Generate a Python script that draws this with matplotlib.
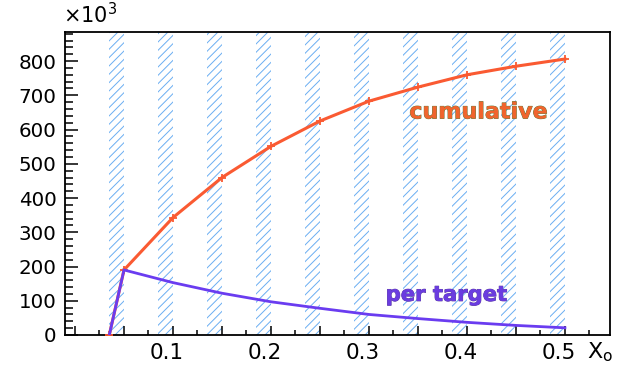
import matplotlib
matplotlib.use('Agg')
import matplotlib.pyplot as plt
import matplotlib.patheffects as pe
from matplotlib.ticker import MultipleLocator, FuncFormatter
from matplotlib.transforms import ScaledTranslation

# X0 values (bin right edges) and event counts in units of 10^3
x0 = [0.035, 0.05, 0.10, 0.15, 0.20, 0.25, 0.30, 0.35, 0.40, 0.45, 0.50]
cumulative = [0, 190, 343, 460, 551, 625, 683, 724, 760, 785, 806]
per_target = [0, 190, 153, 122, 97, 78, 60, 48, 37, 28, 21]
band_right = [0.05, 0.10, 0.15, 0.20, 0.25, 0.30, 0.35, 0.40, 0.45, 0.50]
band_width = 0.015

plt.rcParams['font.family'] = ['DejaVu Sans']
plt.rcParams['hatch.linewidth'] = 0.7

fig = plt.figure(figsize=(6.22, 3.68), dpi=100)
ax = fig.add_axes([65 / 622, 33 / 368, 545 / 622, 303 / 368])

# hatched target bands
for xr in band_right:
    ax.axvspan(xr - band_width, xr, facecolor='none', edgecolor='#6aaef2',
               hatch='////', linewidth=0, zorder=0)

ax.plot(x0, cumulative, color='#fa5a32', lw=2.2, marker='+', ms=6, mew=1.3, zorder=3)
ax.plot(x0, per_target, color='#6a3cf0', lw=2.0, zorder=4)

ax.text(0.412, 650, 'cumulative', color='#f0642d', fontsize=16, fontweight='bold',
        ha='center', va='center',
        path_effects=[pe.withStroke(linewidth=0.6, foreground='#5a7a3a')])
ax.text(0.379, 117, 'per target', color='#6a3ce0', fontsize=15.2, fontweight='bold',
        ha='center', va='center',
        path_effects=[pe.withStroke(linewidth=0.6, foreground='#5a3aa0')])

ax.set_xlim(-0.0102, 0.546)
ax.set_ylim(0, 885)

ax.xaxis.set_major_locator(MultipleLocator(0.05))
ax.xaxis.set_minor_locator(MultipleLocator(0.025))
ax.xaxis.set_major_formatter(FuncFormatter(
    lambda v, p: '%g' % round(v, 2) if abs(v * 10 - round(v * 10)) < 1e-6 and v > 0.01 else ''))
ax.yaxis.set_major_locator(MultipleLocator(100))
ax.yaxis.set_minor_locator(MultipleLocator(20))

ax.tick_params(axis='both', which='both', direction='in', color='black',
               top=False, right=False)
ax.tick_params(axis='x', which='major', length=6.5, width=1.1, pad=6, labelsize=15.5)
ax.tick_params(axis='x', which='minor', length=3.5, width=1.1)
ax.tick_params(axis='y', which='major', length=9.5, width=1.1, pad=6, labelsize=14.3)
ax.tick_params(axis='y', which='minor', length=5.5, width=1.1)

# x labels sit a little left of their ticks
shift = ScaledTranslation(-6 / 100, 0, fig.dpi_scale_trans)
for lbl in ax.get_xticklabels():
    lbl.set_transform(lbl.get_transform() + shift)

for s in ax.spines.values():
    s.set_linewidth(1.3)

fig.text(63 / 622, 1 - 15 / 368, r'$\times$10$^{3}$', fontsize=15, ha='left', va='center')
fig.text(600 / 622, 1 - 352 / 368, r'X$_\mathregular{o}$', fontsize=16, ha='center', va='center')

fig.savefig('out.png', dpi=100)
